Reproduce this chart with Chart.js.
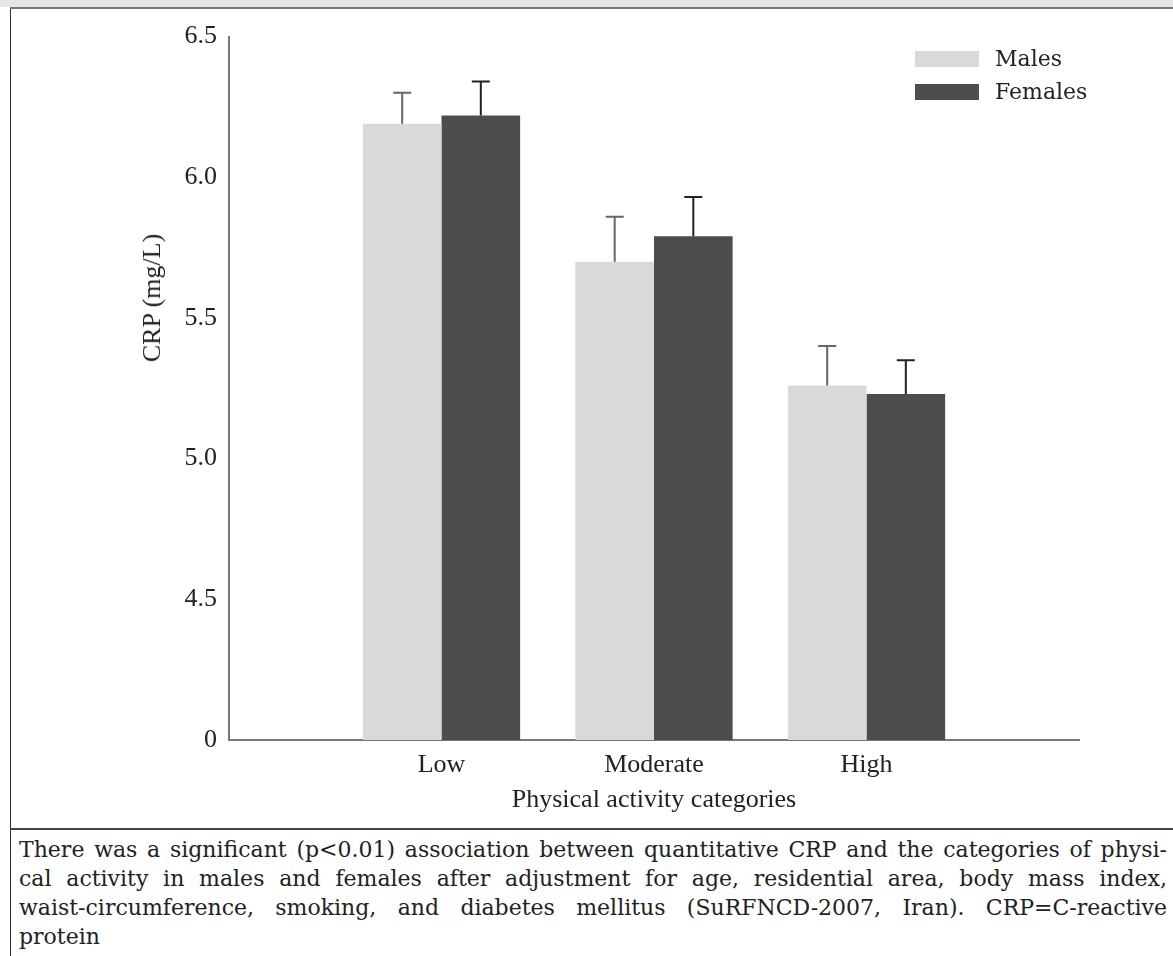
<!DOCTYPE html>
<html>
<head>
<meta charset="utf-8">
<script src="https://cdn.jsdelivr.net/npm/chart.js@4/dist/chart.umd.min.js"></script>
<style>
  body { margin: 0; width: 1173px; height: 956px; background: #fff; overflow: hidden; position: relative; font-family: "Liberation Serif", serif; }
  #band { position: absolute; left: 0; top: 0; width: 1173px; height: 7px; background: #e6e6e6; }
  #bandLine { position: absolute; left: 10px; top: 7px; width: 1163px; height: 2px; background: #777; }
  #frame { position: absolute; left: 10px; top: 9px; width: 1px; height: 947px; background: #333; }
  #grafico { position: absolute; left: 11px; top: 9px; }
  #tituloY { position: absolute; left: 152px; top: 298px; transform: translate(-50%, -50%) rotate(-90deg); font-size: 26px; color: #222; white-space: nowrap; }
  #legenda { position: absolute; left: 915px; top: 42px; font-family: "DejaVu Serif", serif; font-size: 22px; color: #222; }
  .item { display: flex; align-items: center; height: 33px; }
  .caixa { width: 64px; height: 16px; margin-right: 16px; }
  #sep { position: absolute; left: 10px; top: 828px; width: 1163px; height: 2px; background: #444; }
  #legendaTexto { position: absolute; left: 19px; top: 835px; width: 1148px; font-family: "DejaVu Serif", serif; font-size: 22px; line-height: 29px; color: #222; }
  #legendaTexto div { text-align: justify; text-align-last: justify; white-space: nowrap; word-spacing: -1px; }
  #legendaTexto div.ultima { text-align-last: left; }
</style>
</head>
<body>
<div id="band"></div>
<div id="bandLine"></div>
<div id="frame"></div>
<canvas id="grafico" width="1162" height="819"></canvas>
<div id="tituloY">CRP (mg/L)</div>
<div id="legenda"></div>
<div id="sep"></div>
<div id="legendaTexto">
  <div>There was a significant (p&lt;0.01) association between quantitative CRP and the categories of physi-</div>
  <div>cal activity in males and females after adjustment for age, residential area, body mass index,</div>
  <div>waist-circumference, smoking, and diabetes mellitus (SuRFNCD-2007, Iran). CRP=C-reactive</div>
  <div class="ultima">protein</div>
</div>
<script>
  // Dados
  const categorias = ["Low", "Moderate", "High"];
  const series = ["Males", "Females"];
  const homens = [6.19, 5.70, 5.26];
  const mulheres = [6.22, 5.79, 5.23];
  // topo das barras de erro
  const homensErro = [6.30, 5.86, 5.40];
  const mulheresErro = [6.34, 5.93, 5.35];
  const ticksY = [4.0, 4.5, 5.0, 5.5, 6.0, 6.5];
  const rotuloZero = "0";

  const cores = ["#d9d9d9", "#4d4d4d"];
  const coresErro = ["#666", "#222"];
  const erros = [homensErro, mulheresErro];

  // Legenda em HTML
  let legenda = document.querySelector("#legenda");
  series.forEach(function (nome, i) {
    let item = document.createElement("div");
    item.className = "item";
    let caixa = document.createElement("span");
    caixa.className = "caixa";
    caixa.style.background = cores[i];
    item.appendChild(caixa);
    item.appendChild(document.createTextNode(nome));
    legenda.appendChild(item);
  });

  // Barras de erro (só para cima)
  const barrasErro = {
    id: "barrasErro",
    afterDatasetsDraw(chart) {
      const ctx = chart.ctx;
      const y = chart.scales.y;
      chart.data.datasets.forEach(function (ds, d) {
        const meta = chart.getDatasetMeta(d);
        meta.data.forEach(function (bar, i) {
          const topo = y.getPixelForValue(erros[d][i]);
          ctx.save();
          ctx.strokeStyle = coresErro[d];
          ctx.lineWidth = 2;
          ctx.beginPath();
          ctx.moveTo(bar.x, bar.y);
          ctx.lineTo(bar.x, topo);
          ctx.moveTo(bar.x - 9, topo);
          ctx.lineTo(bar.x + 9, topo);
          ctx.stroke();
          ctx.restore();
        });
      });
    }
  };

  const fonteEixo = { family: "Liberation Serif", size: 26 };

  new Chart(document.getElementById("grafico"), {
    type: "bar",
    data: {
      datasets: [
        {
          label: series[0],
          data: homens.map((v, i) => ({ x: i + 1, y: v })),
          backgroundColor: cores[0]
        },
        {
          label: series[1],
          data: mulheres.map((v, i) => ({ x: i + 1, y: v })),
          backgroundColor: cores[1]
        }
      ]
    },
    options: {
      responsive: false,
      animation: false,
      barPercentage: 1,
      categoryPercentage: 0.74,
      layout: { padding: { top: 16, right: 94, left: 0, bottom: 0 } },
      plugins: {
        legend: { display: false },
        tooltip: { enabled: false }
      },
      scales: {
        x: {
          type: "linear",
          offset: false,
          min: 0,
          max: categorias.length + 1,
          grid: { display: false, drawTicks: false, offset: false },
          border: { display: true, color: "#777", width: 2 },
          ticks: {
            stepSize: 1,
            padding: 10,
            color: "#222",
            font: fonteEixo,
            callback: function (v) { return categorias[v - 1] || ""; }
          },
          title: {
            display: true,
            text: "Physical activity categories",
            color: "#222",
            font: fonteEixo,
            padding: { top: 4, bottom: 12 }
          },
          afterFit: function (s) { s.height = 88; }
        },
        y: {
          min: ticksY[0],
          max: ticksY[ticksY.length - 1],
          grid: { display: false, drawTicks: false },
          border: { display: true, color: "#777", width: 2 },
          afterBuildTicks: function (s) { s.ticks = ticksY.map(v => ({ value: v })); },
          ticks: {
            padding: 12,
            color: "#222",
            font: fonteEixo,
            callback: function (v) { return v === ticksY[0] ? rotuloZero : v.toFixed(1); }
          },
          afterFit: function (s) { s.width = 218; }
        }
      }
    },
    plugins: [barrasErro]
  });
</script>
</body>
</html>
